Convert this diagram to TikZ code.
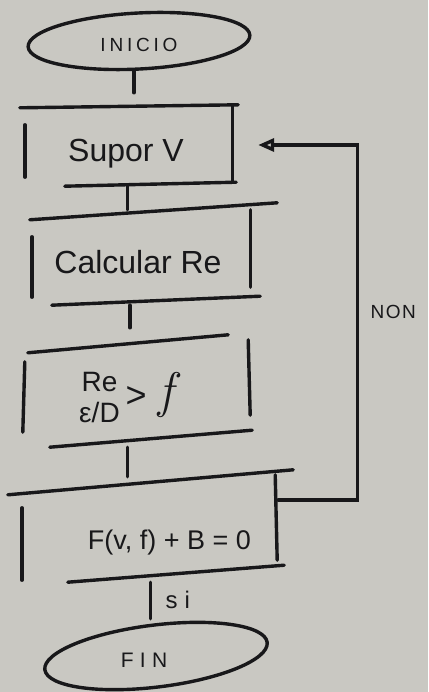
\documentclass[tikz,border=0pt]{standalone}
\usepackage{fontspec}
\setmainfont{Liberation Sans}
\newfontfamily\lmfamily{Latin Modern Roman}
\usetikzlibrary{shapes.geometric,arrows.meta,calc}
\definecolor{paper}{RGB}{201,200,194}
\definecolor{ink}{RGB}{24,24,26}
\begin{document}
\begin{tikzpicture}[x=1pt,y=-1pt,
  inkline/.style={draw=ink,line width=3.4pt,line cap=round},
  terminal/.style={ellipse,draw=none,text=ink,inner sep=0pt},
  stepbox/.style={rectangle,draw=none,text=ink,inner sep=0pt},
  % baseline sits #1/2 below the node centre
  drop/.style={text height=#1,text depth=0pt},
  tag/.style={text=ink}]

% sheet
\fill[paper] (0,0) rectangle (428,692);
\useasboundingbox (0,0) rectangle (428,692);

% terminals
\node[terminal,minimum width=222pt,minimum height=56pt,drop=21.6pt,
      font=\fontsize{19}{21}\selectfont\addfontfeature{LetterSpace=20}]
  (inicio) at (139,41) {INICIO};
\draw[inkline,rotate around={3:(inicio.center)}] (inicio.center) ellipse [x radius=111, y radius=28];

\node[terminal,minimum width=224pt,minimum height=62pt,drop=23pt,
      font=\fontsize{21}{23}\selectfont\addfontfeature{LetterSpace=30}]
  (fin) at (156,656) {FIN\hspace*{24pt}};
\draw[inkline,rotate around={7:(fin.center)}] (fin.center) ellipse [x radius=112, y radius=31];

% process steps
\node[stepbox,minimum width=209pt,minimum height=78pt,drop=33pt,font=\fontsize{32}{34}\selectfont]
  (b1) at (129.5,145) {Supor V\hspace*{7pt}};
\node[stepbox,minimum width=218pt,minimum height=88pt,drop=35pt,font=\fontsize{32}{34}\selectfont]
  (b2) at (141,256) {Calcular Re\hspace*{6pt}};
\node[stepbox,minimum width=225pt,minimum height=96pt,drop=30pt,font=\fontsize{28}{30}\selectfont]
  (b3) at (137.5,392)
  {\begin{tabular}[c]{@{}c@{}}Re\\[1pt]ε/D\end{tabular}\hspace{6pt}{\fontsize{36}{38}\selectfont >}\hspace{12pt}{\lmfamily\itshape\fontsize{50}{52}\selectfont f}\hspace*{22pt}};
\node[stepbox,minimum width=253pt,minimum height=92pt,drop=43pt,font=\fontsize{27}{29}\selectfont]
  (b4) at (148.5,528) {\hspace*{42pt}F(v, f) + B = 0};

% open-sided box outlines
\draw[inkline] ([shift={(-5,2)}]b1.north west) -- ([shift={(4,-1)}]b1.north east);
\draw[inkline] ([shift={(0,19)}]b1.north west) -- ([shift={(0,-7)}]b1.south west);
\draw[inkline] ([shift={(-2,-1)}]b1.north east) -- ([shift={(-2,-2)}]b1.south east);
\draw[inkline] ([shift={(40,2)}]b1.south west) -- ([shift={(2,-2)}]b1.south east);

\draw[inkline] ([shift={(-2,8)}]b2.north west) -- ([shift={(27,-9)}]b2.north east);
\draw[inkline] ([shift={(0,25)}]b2.north west) -- ([shift={(0,-3)}]b2.south west);
\draw[inkline] ([shift={(0,-2)}]b2.north east) -- ([shift={(0,-13)}]b2.south east);
\draw[inkline] ([shift={(20,5)}]b2.south west) -- ([shift={(10,-4)}]b2.south east);

\draw[inkline] ([shift={(3,9)}]b3.north west) -- ([shift={(-22,-9)}]b3.north east);
\draw[inkline] ([shift={(0,18)}]b3.north west) -- ([shift={(-2,-8)}]b3.south west);
\draw[inkline] ([shift={(-2,-4)}]b3.north east) -- ([shift={(0,-25)}]b3.south east);
\draw[inkline] ([shift={(25,7)}]b3.south west) -- ([shift={(2,-10)}]b3.south east);

\draw[inkline] ([shift={(-14,13)}]b4.north west) -- ([shift={(18,-12)}]b4.north east);
\draw[inkline] ([shift={(0,26)}]b4.north west) -- ([shift={(0,6)}]b4.south west);
\draw[inkline] ([shift={(0,-7)}]b4.north east) -- ([shift={(2,-14)}]b4.south east);
\draw[inkline] ([shift={(46,8)}]b4.south west) -- ([shift={(9,-9)}]b4.south east);

% flow connectors
\draw[inkline,shorten <=1pt,shorten >=13pt] ([xshift=-5pt]inicio.south) -- ([xshift=-5pt]inicio.south |- b1.north);
\draw[inkline,shorten <=2pt,shorten >=2pt] ([xshift=-2pt]b1.south) -- ([xshift=-2pt]b1.south |- b2.north);
\draw[inkline,shorten <=5pt,shorten >=16pt] ([xshift=-11pt]b2.south) -- ([xshift=-11pt]b2.south |- b3.north);
\draw[inkline,shorten <=7pt,shorten >=5pt] ([xshift=-10pt]b3.south) -- ([xshift=-10pt]b3.south |- b4.north);
\draw[inkline,shorten <=8pt,shorten >=6pt] ([xshift=2pt]b4.south) -- ([xshift=2pt]b4.south |- fin.north)
  node[tag,pos=0.5,right=10pt,font=\fontsize{24}{26}\selectfont\addfontfeature{LetterSpace=30}] {si};

% loop back when the test fails
\draw[inkline,shorten >=24pt,-{Triangle[open,length=16pt,width=13pt]}]
  ([shift={(3,-28)}]b4.east) -| ([xshift=123pt]b1.east) -- (b1.east);
\node[tag,font=\fontsize{19}{21}\selectfont\addfontfeature{LetterSpace=8}]
  (non) at ([shift={(159,167)}]b1.east) {NON};

\end{tikzpicture}
\end{document}
